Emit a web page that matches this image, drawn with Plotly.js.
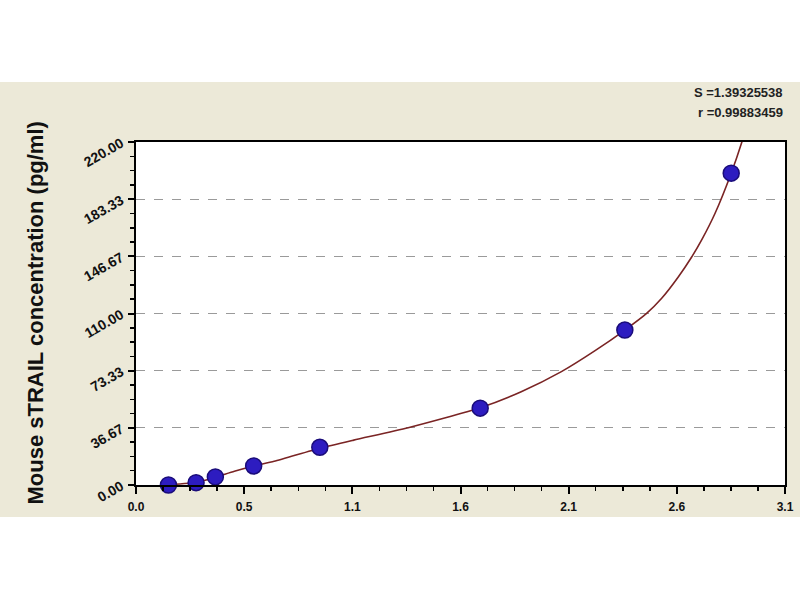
<!DOCTYPE html>
<html>
<head>
<meta charset="utf-8">
<script src="https://cdn.plot.ly/plotly-3.0.1.min.js"></script>
<style>html,body{margin:0;padding:0;background:#fff;}#chart{width:800px;height:600px;}</style>
</head>
<body>
<div id="chart"></div>
<script>
// Standard points (OD vs concentration)
var odValues = [0.155, 0.287, 0.379, 0.562, 0.878, 1.644, 2.335, 2.843];
var concValues = [0, 1.5, 5.2, 12.2, 24.2, 49.3, 99.4, 200.0];

// Fitted curve
var curveX = [0.155, 0.22, 0.287, 0.379, 0.47, 0.562, 0.66, 0.878, 1.04, 1.30, 1.644, 1.84, 2.032, 2.191, 2.335, 2.439, 2.511, 2.591, 2.655, 2.702, 2.766, 2.843, 2.894, 2.92];
var curveY = [0.2, 0.8, 1.6, 5.0, 8.8, 12.2, 15.2, 23.6, 28.8, 36.7, 49.5, 59.8, 72.7, 86.0, 99.4, 110.1, 119.8, 133.6, 146.4, 157.2, 174.3, 200.0, 220.0, 232.0];

// Axis ticks and texts
var xTickText = ['0.0', '0.5', '1.1', '1.6', '2.1', '2.6', '3.1'];
var yTickText = ['0.00', '36.67', '73.33', '110.00', '146.67', '183.33', '220.00'];
var xMax = 3.1;
var yMax = 220;
var yTitle = 'Mouse sTRAIL concentration (pg/ml)';
var statLines = ['S =1.39325538', 'r =0.99883459'];

var xTickVals = xTickText.map(function (t, i) { return i * xMax / (xTickText.length - 1); });
var yTickVals = yTickText.map(function (t, i) { return i * yMax / (yTickText.length - 1); });
var xStep = xMax / (xTickText.length - 1);
var yStep = yMax / (yTickText.length - 1);

var traces = [
  {
    x: curveX, y: curveY, type: 'scatter', mode: 'lines',
    line: {color: '#7a2424', width: 1.6, shape: 'spline', smoothing: 0.6},
    hoverinfo: 'skip', showlegend: false
  },
  {
    x: odValues, y: concValues, type: 'scatter', mode: 'markers',
    marker: {color: '#2d1cc0', size: 16, line: {color: '#1a0c7a', width: 1.5}},
    showlegend: false, cliponaxis: false
  }
];

var xTickFont = {family: 'Liberation Sans, Arial, sans-serif', size: 12, color: '#111', weight: 700};
var yTickFont = {family: 'Liberation Sans, Arial, sans-serif', size: 14, color: '#111', weight: 700};
var statFont = {family: 'Liberation Sans, Arial, sans-serif', size: 13, color: '#222', weight: 700};

var layout = {
  width: 800, height: 600,
  paper_bgcolor: '#ece9d8',
  plot_bgcolor: '#ffffff',
  margin: {l: 136, r: 15, t: 142, b: 115, pad: 0},
  xaxis: {
    range: [0, xMax], tickmode: 'array', tickvals: xTickVals, ticktext: xTickText,
    ticks: 'outside', ticklen: 7, tickwidth: 2, tickcolor: '#000',
    showline: true, linecolor: '#000', linewidth: 2, mirror: true,
    showgrid: false, zeroline: false, tickfont: xTickFont, ticklabelstandoff: 3,
    minor: {dtick: xStep / 4, tick0: 0, ticks: 'outside', ticklen: 4, tickwidth: 1.5, tickcolor: '#000', showgrid: false}
  },
  yaxis: {
    range: [0, yMax], tickmode: 'array', tickvals: yTickVals, ticktext: yTickText,
    ticks: 'outside', ticklen: 6, tickwidth: 2, tickcolor: '#000',
    showline: true, linecolor: '#000', linewidth: 2, mirror: true,
    showgrid: true, gridcolor: '#9a9a9a', griddash: 'dash', gridwidth: 1,
    zeroline: false, tickfont: yTickFont, tickangle: -30, ticklabelstandoff: 4,
    minor: {dtick: yStep / 4, tick0: 0, ticks: 'outside', ticklen: 4, tickwidth: 1.5, tickcolor: '#000', showgrid: false}
  },
  shapes: [
    {type: 'rect', xref: 'paper', yref: 'paper', x0: -0.3, x1: 1.1, y0: 1.1749, y1: 1.5, fillcolor: '#ffffff', line: {width: 0}, layer: 'below'},
    {type: 'rect', xref: 'paper', yref: 'paper', x0: -0.3, x1: 1.1, y0: -0.5, y1: -0.0933, fillcolor: '#ffffff', line: {width: 0}, layer: 'below'}
  ],
  annotations: [
    {xref: 'paper', yref: 'paper', x: -0.1556, y: 0.5, xanchor: 'center', yanchor: 'middle', showarrow: false,
     textangle: -90, text: yTitle,
     font: {family: 'Liberation Sans, Arial, sans-serif', size: 22, color: '#111', weight: 700}},
    {xref: 'paper', yref: 'paper', x: 1.0, y: 1.143, xanchor: 'right', yanchor: 'middle', showarrow: false,
     text: statLines[0], font: statFont},
    {xref: 'paper', yref: 'paper', x: 1.0, y: 1.085, xanchor: 'right', yanchor: 'middle', showarrow: false,
     text: statLines[1], font: statFont}
  ]
};

Plotly.newPlot('chart', traces, layout, {displayModeBar: false, staticPlot: true});
</script>
</body>
</html>
